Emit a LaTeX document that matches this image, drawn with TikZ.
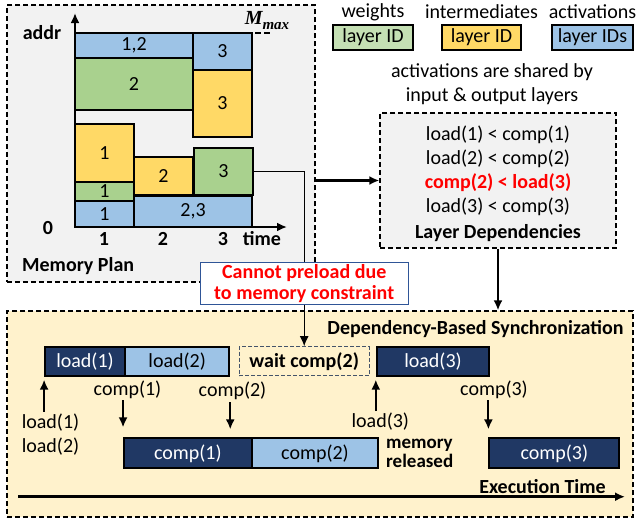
\documentclass[tikz,border=0pt]{standalone}
\usepackage{fontspec}
\setmainfont{Carlito}
\newfontfamily\mmaxfont{Liberation Serif}
\usepackage{xcolor}
\usepackage{tikz}
\usetikzlibrary {positioning}
\usetikzlibrary{arrows.meta}
\tikzset{edge/.style = {-{Latex[length=10pt,width=9pt]}}}

\definecolor{actblue}{HTML}{9DC3E6}
\definecolor{wgtgreen}{HTML}{A9D18E}
\definecolor{keygreen}{HTML}{C5E0B4}
\definecolor{intyellow}{HTML}{FFD966}
\definecolor{navy}{HTML}{203864}
\definecolor{panelgray}{HTML}{F2F2F2}
\definecolor{syncbg}{HTML}{FFF2CC}
\definecolor{noteblue}{HTML}{2F5597}
\definecolor{slate}{HTML}{44546A}
\newcommand{\figfont}{\fontsize{20}{24}\selectfont}

\begin{document}
\begin{tikzpicture}[x=1pt,y=-1pt,font=\figfont,inner sep=2pt,
                    head/.style={font=\figfont\bfseries},
                    dash box/.style={draw,line width=1.3pt,dash pattern=on 5pt off 3pt,inner sep=0pt},
                    mem block/.style={draw,line width=1.3pt,inner sep=0pt},
                    key box/.style={draw,line width=1.5pt,inner sep=0pt,minimum height=25},
                    bar/.style={draw,line width=1.8pt,inner sep=0pt},
                    dark bar/.style={bar,fill=navy,text=white},
                    light bar/.style={bar,fill=actblue},
                    note box/.style={draw=noteblue,line width=1pt,fill=white,text=red,align=center,inner sep=0pt,
                                     minimum width=208,minimum height=42,font=\fontsize{20}{21}\selectfont\bfseries}]
                    \useasboundingbox (0,0) rectangle (637,520);

                    % memory plan
                    \node[dash box,fill=panelgray,minimum width=308,minimum height=277] (mem) at (161,143.5) {};
                    \node[mem block,fill=actblue,minimum width=118,minimum height=25] (a12) at (134,45.5) {1,2};
                    \node[mem block,fill=actblue,minimum width=59,minimum height=37] (a3) at (222.5,51.5) {3};
                    \node[mem block,fill=wgtgreen,minimum width=118,minimum height=52] (w2) at (134,84) {2};
                    \node[mem block,fill=intyellow,minimum width=59,minimum height=67] (i3) at (222.5,103.5) {3};
                    \node[mem block,fill=intyellow,minimum width=59,minimum height=58] (i1) at (104.5,153) {1};
                    \node[mem block,fill=wgtgreen,minimum width=59,minimum height=19] (w1) at (104.5,191.5) {1};
                    \node[mem block,fill=actblue,minimum width=59,minimum height=26] (a1) at (104.5,214) {1};
                    \node[mem block,fill=intyellow,minimum width=59,minimum height=38] (i2) at (163.5,176) {2};
                    \node[mem block,fill=wgtgreen,minimum width=59,minimum height=47] (w3) at (223.5,171.5) {3};
                    \node[mem block,fill=actblue,minimum width=118,minimum height=31] (a23) at (193,211.5) {2,3};

                    \coordinate (o) at (75,227);
                    \coordinate (ytop) at (75,13);
                    \coordinate (xend) at (287,227);
                    \coordinate (mtop) at (272,33);
                    \draw[edge,line width=2pt] (o) -- (ytop);
                    \draw[edge,line width=2pt] (o) -- (xend);
                    \draw[line width=2pt,dash pattern=on 6pt off 3pt] (ytop |- mtop) -- (mtop);

                    \node[head] (addr) at (42,33) {addr};
                    \node[head] (zero) at (48,228) {0};
                    \node[head] (t1) at (104,239) {1};
                    \node[head] (t2) at (163,239) {2};
                    \node[head] (t3) at (223,239) {3};
                    \node[head] (time) at (262,239) {time};
                    \node[font=\mmaxfont\fontsize{20}{24}\selectfont\bfseries\itshape] (mmax) at (267,21)
                        {M\raisebox{-5pt}{\fontsize{15}{15}\selectfont max}};
                    \node[head,anchor=west] (memlbl) at (20,266) {Memory Plan};

                    % legend
                    \node (wlbl) at (373,12) {weights};
                    \node (ilbl) at (481.5,12) {intermediates};
                    \node (albl) at (592.5,12) {activations};
                    \node[key box,fill=keygreen,minimum width=80] (wkey) at (373,37.5) {layer ID};
                    \node[key box,fill=intyellow,minimum width=79] (ikey) at (481.5,37.5) {layer ID};
                    \node[key box,fill=actblue,minimum width=81] (akey) at (592.5,37.5) {layer IDs};
                    \node[align=center] (share) at (492,84.5) {activations are shared by\\input \& output layers};

                    % dependencies
                    \node[dash box,fill=panelgray,minimum width=236,minimum height=135] (dep) at (498,180.5) {};
                    \node[align=center] (deps) at (498,184) {load(1) < comp(1)\\load(2) < comp(2)\\
                        \textcolor{red}{\textbf{comp(2) < load(3)}}\\load(3) < comp(3)\\[2pt]\textbf{Layer Dependencies}};

                    % synchronization
                    \node[dash box,fill=syncbg,minimum width=626,minimum height=206] (sync) at (320,414) {};
                    \node[head] (synclbl) at (475.5,329) {Dependency-Based Synchronization};
                    \node[dark bar,minimum width=80,minimum height=29] (ld1) at (85,361.2) {load(1)};
                    \node[light bar,minimum width=104.3,minimum height=29] (ld2) at (177.2,361.2) {load(2)};
                    \node[draw=slate,line width=1pt,dash pattern=on 4pt off 2pt,inner sep=0pt,
                          minimum width=130,minimum height=29] (wt) at (304.2,361.2) {\textbf{wait comp(2)}};
                    \node[dark bar,minimum width=112.6,minimum height=29] (ld3) at (433,361.2) {load(3)};
                    \node[dark bar,minimum width=127.7,minimum height=30] (cp1) at (187.8,453.3) {comp(1)};
                    \node[light bar,minimum width=126.6,minimum height=30] (cp2) at (315,453.3) {comp(2)};
                    \node[dark bar,minimum width=130,minimum height=30] (cp3) at (554.3,453.3) {comp(3)};

                    \node[align=left] (ld12) at (50.5,434.7) {load(1)\\load(2)};
                    \node (c1lbl) at (127.5,389.3) {comp(1)};
                    \node (c2lbl) at (232.5,391) {comp(2)};
                    \node (l3lbl) at (380.3,422) {load(3)};
                    \node (c3lbl) at (494,389.3) {comp(3)};
                    \node[head,align=left,anchor=west,font=\fontsize{19}{19}\selectfont\bfseries] (rel) at (384,453.5) {memory\\released};

                    \draw[edge,line width=2pt] (ld12.north -| ld1.south west) -- ([yshift=-3pt]ld1.south west);
                    \draw[edge,line width=2pt] (c1lbl.south -| cp1.north west) -- ([yshift=10pt]cp1.north west);
                    \draw[edge,line width=2pt] (c2lbl.south -| ld2.south east) -- ([yshift=8pt]cp1.north -| ld2.south east);
                    \draw[edge,line width=2pt] (l3lbl.north -| ld3.south west) -- ([yshift=-3pt]ld3.south west);
                    \draw[edge,line width=2pt] (c3lbl.south -| cp3.north west) -- ([yshift=8pt]cp3.north west);

                    % links between panels
                    \draw[edge,line width=2.5pt] (mem.east |- dep.west) -- (dep.west);
                    \draw[edge,line width=2.5pt] (dep.south) -- (dep.south |- sync.north);
                    \draw[edge,line width=1.3pt] (w3.east) -| node[pos=0.82,note box] (note) {Cannot preload due\\to memory constraint} (wt.north);

                    \coordinate (tstart) at (18,496.7);
                    \coordinate (tend) at (625,496.7);
                    \draw[edge,line width=3pt] (tstart) -- (tend);
                    \node[head] (exlbl) at (542.5,487) {Execution Time};
                \end{tikzpicture}
\end{document}
